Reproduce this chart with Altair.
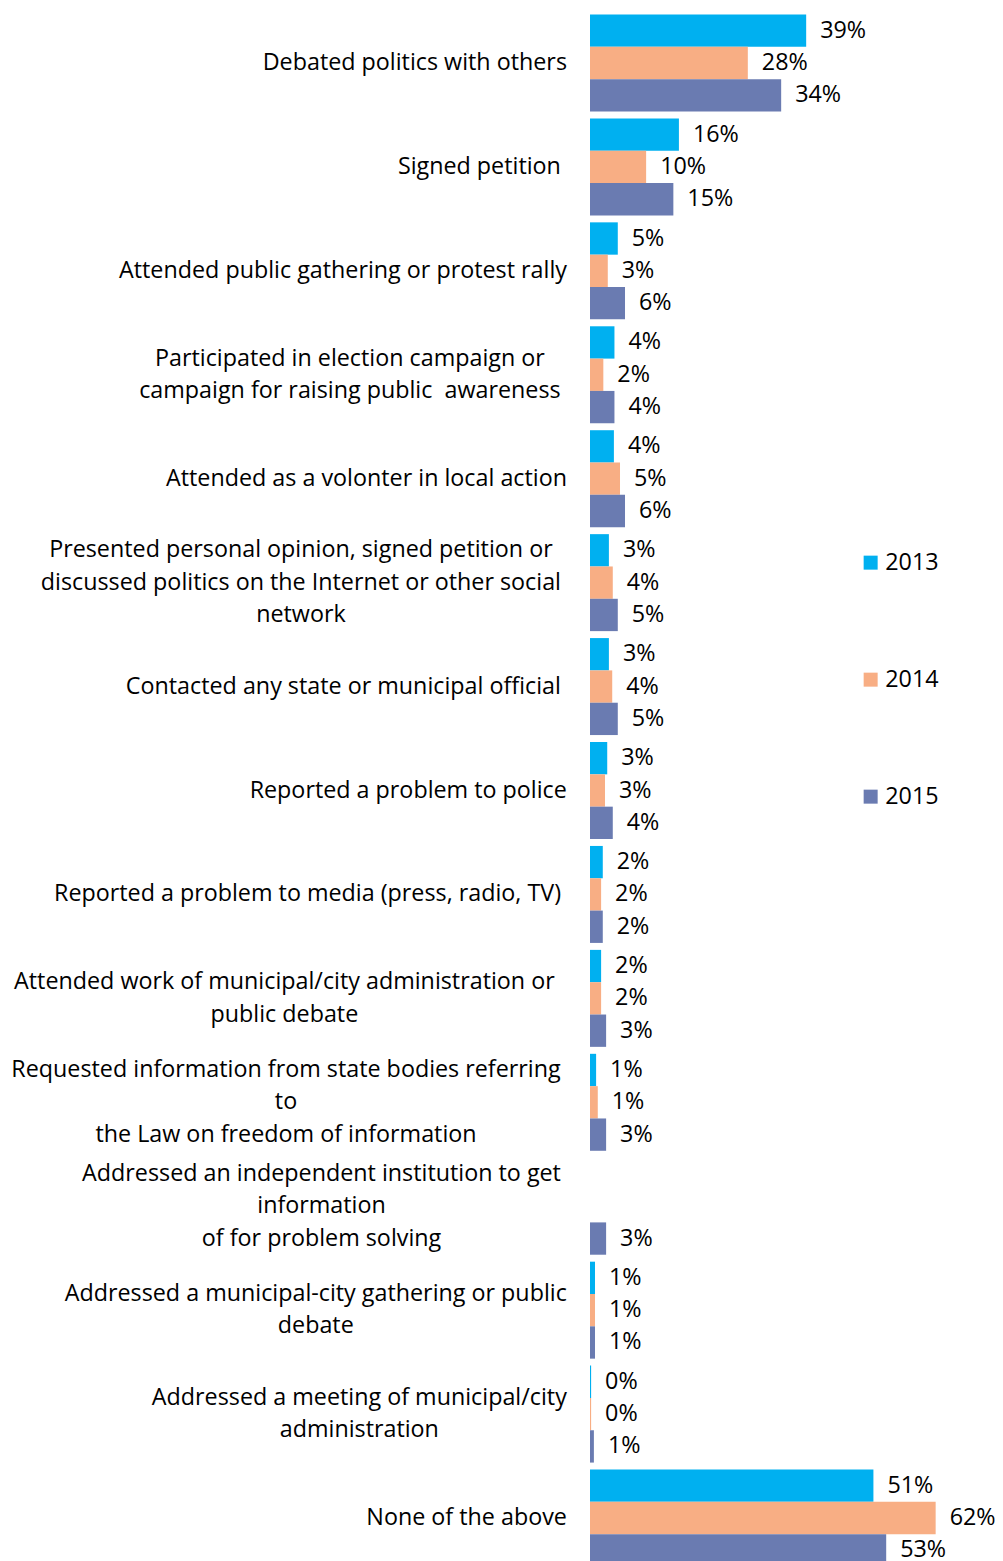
import altair as alt
import pandas as pd

# ---------------- data ----------------
CATEGORIES = [
    "Debated politics with others",
    "Signed petition ",
    "Attended public gathering or protest rally",
    "Participated in election campaign or\ncampaign for raising public\u00a0 awareness ",
    "Attended as a volonter in local action",
    "Presented personal opinion, signed petition or\ndiscussed politics on the Internet or other social \nnetwork",
    "Contacted any state or municipal official ",
    "Reported a problem to police",
    "Reported a problem to media (press, radio, TV) ",
    "Attended work of municipal/city administration or  \npublic debate",
    "Requested information from state bodies referring \nto\nthe Law on freedom of information",
    "Addressed an independent institution to get \ninformation\nof for problem solving",
    "Addressed a municipal-city gathering or public\ndebate",
    "Addressed a meeting of municipal/city\nadministration",
    "None of the above",
]
YEARS = ["2013", "2014", "2015"]
Y2013 = [38.9, 16.0, 5.0, 4.4, 4.3, 3.4, 3.4, 3.1, 2.3, 2.0, 1.1, None, 0.9, 0.2, 51.0]
Y2014 = [28.4, 10.1, 3.2, 2.4, 5.4, 4.1, 4.0, 2.7, 2.0, 2.0, 1.4, None, 0.9, 0.2, 62.2]
Y2015 = [34.4, 15.0, 6.3, 4.4, 6.3, 5.0, 5.0, 4.1, 2.3, 2.9, 2.9, 2.9, 0.9, 0.7, 53.3]
COLORS = ["#00B0F0", "#F8AE84", "#6A7BB1"]

# ---------------- layout ----------------
FONT = "Open Sans"
FS = 23.3
LH = 32.5
WIDTH = 389
XMAX = 70
PX = WIDTH / XMAX
PAD_LEFT = 582
LABEL_RIGHT_PX = -23  # right edge of category labels relative to plot left

_W = {' ': 532, '\u00a0': 532, 'a': 1139, 'b': 1255, 'c': 975, 'd': 1255, 'e': 1149,
      'f': 694, 'g': 1122, 'h': 1257, 'i': 518, 'j': 518, 'k': 1075, 'l': 518,
      'm': 1905, 'n': 1257, 'o': 1237, 'p': 1255, 'q': 1255, 'r': 836, 's': 977,
      't': 723, 'u': 1257, 'v': 1026, 'w': 1593, 'x': 1073, 'y': 1028, 'z': 973,
      'A': 1296, 'B': 1327, 'C': 1292, 'D': 1493, 'E': 1139, 'F': 1057, 'G': 1491,
      'H': 1511, 'I': 571, 'J': 547, 'K': 1257, 'L': 1063, 'M': 1849, 'N': 1544,
      'O': 1595, 'P': 1233, 'Q': 1595, 'R': 1266, 'S': 1124, 'T': 1133, 'U': 1491,
      'V': 1219, 'W': 1896, 'X': 1182, 'Y': 1154, 'Z': 1169, ',': 500, '.': 545,
      '/': 752, '-': 659, '(': 604, ')': 604, '%': 1706}


def text_w(s):
    return sum(_W.get(ch, 1171) for ch in s) / 2048 * FS


def label_center(label):
    lines = label.split("\n")
    longest = max(lines, key=text_w)
    vis = longest.rstrip(" ")
    trail = text_w(longest) - text_w(vis)
    return LABEL_RIGHT_PX - trail - text_w(vis) / 2


rows = []
for i, c in enumerate(CATEGORIES):
    for y, series in zip(YEARS, [Y2013, Y2014, Y2015]):
        v = series[i]
        if v is None:
            continue
        rows.append({"cat": c, "year": y, "value": v, "lab": f"{v:.0f}%"})
bars_df = pd.DataFrame(rows)

lab_df = pd.DataFrame({
    "cat": CATEGORIES,
    "txt": ["\n".join(l.rstrip(" ") for l in c.split("\n")) for c in CATEGORIES],
    "lx": [label_center(c) / PX for c in CATEGORIES],
    "n": [len(c.split("\n")) for c in CATEGORIES],
})

yscale = alt.Scale(domain=CATEGORIES, range=[0, 1559], paddingInner=0.067, paddingOuter=0.0335)
xscale = alt.Scale(domain=[0, XMAX], zero=True, nice=False)

bars = alt.Chart(bars_df).mark_bar().encode(
    y=alt.Y("cat:N", scale=yscale, axis=None, sort=CATEGORIES),
    yOffset=alt.YOffset("year:N", sort=YEARS, scale=alt.Scale(paddingInner=0, paddingOuter=0)),
    x=alt.X("value:Q", scale=xscale, axis=None),
    color=alt.Color(
        "year:N",
        scale=alt.Scale(domain=YEARS, range=COLORS),
        legend=alt.Legend(
            title=None, orient="none", legendX=269, legendY=540,
            symbolType="square", symbolSize=196, symbolStrokeWidth=0,
            labelFont=FONT, labelFontSize=FS, labelColor="#000000",
            labelOffset=3, rowPadding=93, padding=0,
        ),
    ),
)

vals = alt.Chart(bars_df).mark_text(
    align="left", baseline="middle", dx=14, font=FONT, fontSize=FS, color="#000000"
).encode(
    y=alt.Y("cat:N", scale=yscale, axis=None, sort=CATEGORIES),
    yOffset=alt.YOffset("year:N", sort=YEARS),
    x=alt.X("value:Q", scale=xscale, axis=None),
    text="lab:N",
)

cat_layers = []
for n in (1, 2, 3):
    cat_layers.append(
        alt.Chart(lab_df).transform_filter(alt.datum.n == n).mark_text(
            align="center", baseline="middle", lineBreak="\n", lineHeight=LH,
            dy=-(n - 1) * LH / 2, font=FONT, fontSize=FS, color="#000000"
        ).encode(
            y=alt.Y("cat:N", scale=yscale, axis=None, sort=CATEGORIES),
            x=alt.X("lx:Q", scale=xscale, axis=None),
            text="txt:N",
        )
    )

chart = alt.layer(bars, vals, *cat_layers).properties(
    width=WIDTH,
    height=1550,
    autosize=alt.AutoSizeParams(type="none"),
    padding={"left": PAD_LEFT, "top": 3, "right": 987 - PAD_LEFT - WIDTH, "bottom": 0},
).configure_view(stroke=None)

chart.save("out.html", embed_options={"renderer": "svg", "actions": False})
